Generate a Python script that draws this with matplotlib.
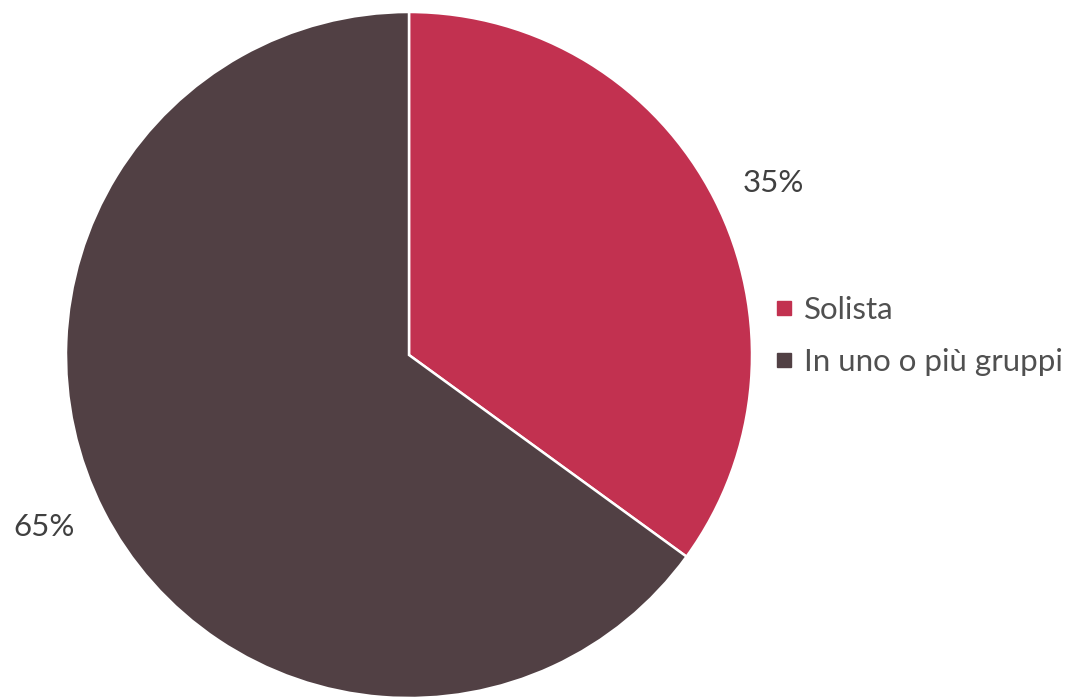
import matplotlib
matplotlib.use("Agg")
import matplotlib.pyplot as plt
import numpy as np
from matplotlib.lines import Line2D

categories = ["Solista", "In uno o più gruppi"]
values = [35, 65]
pct_labels = ["35%", "65%"]
colors = ["#C23150", "#514044"]

plt.rcParams['font.family'] = ['Lato', 'DejaVu Sans']

W, H = 1087, 698
fig = plt.figure(figsize=(W / 100, H / 100), dpi=100)
cx, cy, r = 409, 698 - 355, 343
ax = fig.add_axes([(cx - r) / W, (cy - r) / H, 2 * r / W, 2 * r / H])

wedges, texts = ax.pie(values, labels=pct_labels, colors=colors, startangle=90,
                       counterclock=False, labeldistance=1.175,
                       wedgeprops=dict(edgecolor="white", linewidth=1.8),
                       textprops=dict(fontsize=22.5, color="#404040"))
for w, t in zip(wedges, texts):
    ang = np.deg2rad((w.theta1 + w.theta2) / 2 - 1.8)
    t.set_position((1.175 * np.cos(ang), 1.175 * np.sin(ang)))
    t.set_horizontalalignment("center")
    t.set_verticalalignment("center")
ax.set_xlim(-1, 1)
ax.set_ylim(-1, 1)
ax.set_aspect("equal")
ax.axis("off")

handles = [Line2D([0], [0], marker="s", linestyle="none", markersize=9.5,
                  markerfacecolor=c, markeredgecolor=c) for c in colors]
fig.legend(handles, categories, loc="center left",
           bbox_to_anchor=(773 / W, 1 - 336 / H), frameon=False,
           fontsize=22.5, labelcolor="#505050", handlelength=0.7,
           handletextpad=0.3, labelspacing=0.75, borderaxespad=0, borderpad=0)

fig.savefig("out.png", dpi=100)
